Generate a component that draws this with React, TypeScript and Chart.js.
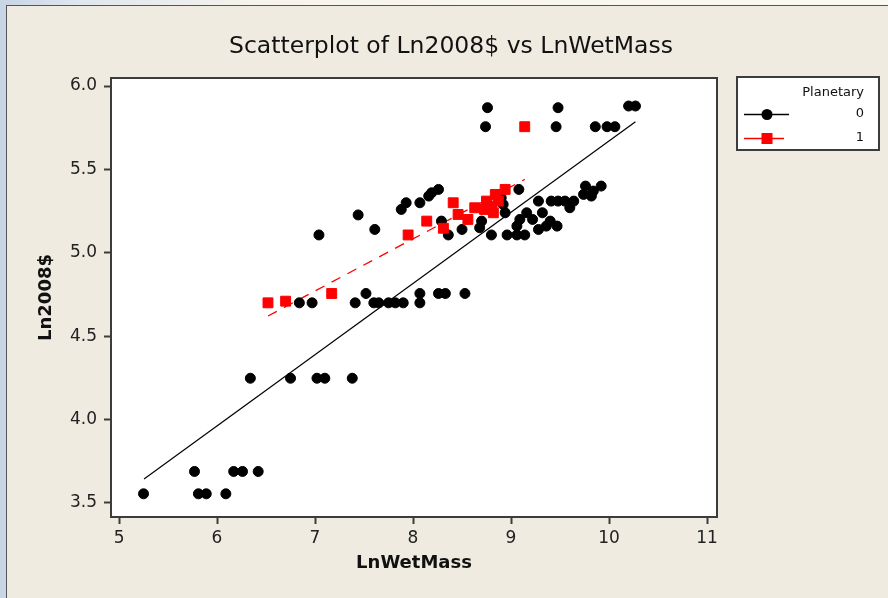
import React, { useEffect, useRef } from "react";
import { Chart, registerables } from "chart.js";

Chart.register(...registerables);

// ---- data ----
const xTickValues = [5, 6, 7, 8, 9, 10, 11];
const yTickValues = [3.5, 4.0, 4.5, 5.0, 5.5, 6.0];

// Planetary = 0 (black circles)
const group0X = [
  5.25, 5.77, 5.81, 5.89, 6.09, 6.17, 6.26, 6.42,
  6.34, 6.75, 7.02, 7.10, 7.38,
  6.84, 6.97, 7.41, 7.52, 7.60, 7.65, 7.75, 7.82, 7.90, 8.07, 8.07, 8.26, 8.33, 8.53,
  7.04, 7.44, 7.61, 7.88, 7.93, 8.07, 8.16, 8.19, 8.26, 8.29, 8.36, 8.50, 8.68, 8.70,
  8.80, 8.90, 8.92, 8.94, 8.96, 9.06, 9.06, 9.08, 9.09, 9.14, 9.16, 9.22, 9.28, 9.28,
  9.32, 9.36, 9.40, 9.41, 9.47, 9.48, 9.55, 9.60, 9.64, 9.74, 9.76, 9.82, 9.84, 9.92,
  8.76, 8.74, 9.48, 9.46, 9.86, 9.98, 10.06, 10.20, 10.27,
];
const group0Y = [
  3.555, 3.689, 3.555, 3.555, 3.555, 3.689, 3.689, 3.689,
  4.248, 4.248, 4.248, 4.248, 4.248,
  4.70, 4.70, 4.70, 4.756, 4.70, 4.70, 4.70, 4.70, 4.70, 4.70, 4.756, 4.756, 4.756, 4.756,
  5.107, 5.227, 5.14, 5.26, 5.30, 5.30, 5.34, 5.36, 5.38, 5.19, 5.107, 5.14, 5.15, 5.19,
  5.107, 5.33, 5.29, 5.24, 5.107, 5.16, 5.107, 5.38, 5.20, 5.107, 5.24, 5.20, 5.31, 5.14,
  5.24, 5.16, 5.19, 5.31, 5.16, 5.31, 5.31, 5.27, 5.31, 5.35, 5.40, 5.34, 5.37, 5.40,
  5.87, 5.756, 5.87, 5.756, 5.756, 5.756, 5.756, 5.88, 5.88,
];

// Planetary = 1 (red squares)
const group1X = [
  6.52, 6.70, 7.17, 7.95, 8.14, 8.31, 8.41, 8.46, 8.56, 8.63, 8.73, 8.75, 8.80, 8.82,
  8.84, 8.87, 8.94, 9.14,
];
const group1Y = [
  4.70, 4.71, 4.756, 5.107, 5.19, 5.147, 5.30, 5.23, 5.20, 5.27, 5.26, 5.31, 5.28, 5.24,
  5.35, 5.31, 5.38, 5.756,
];

// fitted lines (end points)
const fit0X = [5.255, 10.27];
const fit0Y = [3.644, 5.786];
const fit1X = [6.52, 9.14];
const fit1Y = [4.621, 5.44];

const titleText = "Scatterplot of Ln2008$ vs LnWetMass";
const xTitle = "LnWetMass";
const yTitle = "Ln2008$";
const legendTitle = "Planetary";
const groupLabels = ["0", "1"];

const FONT = "'DejaVu Sans', sans-serif";

const pts = (xs: number[], ys: number[]) => xs.map((x, i) => ({ x, y: ys[i] }));

const framePlugin = {
  id: "frame",
  beforeDraw(chart: any) {
    const { ctx, chartArea: a } = chart;
    ctx.save();
    ctx.fillStyle = "#ffffff";
    ctx.fillRect(a.left, a.top, a.right - a.left, a.bottom - a.top);
    ctx.restore();
  },
  afterDraw(chart: any) {
    const { ctx, chartArea: a } = chart;
    ctx.save();
    // plot border
    ctx.strokeStyle = "#3c3c3c";
    ctx.lineWidth = 2;
    ctx.strokeRect(a.left, a.top, a.right - a.left, a.bottom - a.top);

    // title
    ctx.fillStyle = "#111";
    ctx.font = `23.5px ${FONT}`;
    ctx.textAlign = "center";
    ctx.textBaseline = "middle";
    ctx.fillText(titleText, 451, 47);

    // legend
    const lx = a.right + 20;
    const ly = a.top - 1;
    const lw = 142;
    const lh = 73;
    ctx.fillStyle = "#ffffff";
    ctx.fillRect(lx, ly, lw, lh);
    ctx.strokeStyle = "#3c3c3c";
    ctx.lineWidth = 2;
    ctx.strokeRect(lx, ly, lw, lh);

    ctx.fillStyle = "#111";
    ctx.font = `13px ${FONT}`;
    ctx.textAlign = "right";
    ctx.textBaseline = "middle";
    ctx.fillText(legendTitle, lx + 127, ly + 16);
    ctx.fillText(groupLabels[0], lx + 127, ly + 37);
    ctx.fillText(groupLabels[1], lx + 127, ly + 61);

    // row 0
    ctx.strokeStyle = "#000";
    ctx.lineWidth = 1.5;
    ctx.beginPath();
    ctx.moveTo(lx + 7, ly + 37.5);
    ctx.lineTo(lx + 52, ly + 37.5);
    ctx.stroke();
    ctx.fillStyle = "#000";
    ctx.beginPath();
    ctx.arc(lx + 30, ly + 37.5, 5.5, 0, Math.PI * 2);
    ctx.fill();

    // row 1
    ctx.strokeStyle = "#ff0000";
    ctx.beginPath();
    ctx.moveTo(lx + 7, ly + 61.5);
    ctx.lineTo(lx + 47, ly + 61.5);
    ctx.stroke();
    ctx.fillStyle = "#ff0000";
    ctx.fillRect(lx + 24.5, ly + 56, 11, 11);
    ctx.restore();
  },
};

export default function App() {
  const ref = useRef<HTMLCanvasElement | null>(null);

  useEffect(() => {
    document.body.style.margin = "0";
    const canvas = ref.current;
    if (!canvas) return;
    const chart = new Chart(canvas, {
      type: "scatter",
      data: {
        datasets: [
          {
            label: "1",
            data: pts(group1X, group1Y),
            pointStyle: "rect",
            pointRadius: 7,
            borderWidth: 1,
            backgroundColor: "#ff0000",
            borderColor: "#ff0000",
          },
          {
            label: "0",
            data: pts(group0X, group0Y),
            pointStyle: "circle",
            pointRadius: 5,
            borderWidth: 1,
            backgroundColor: "#000000",
            borderColor: "#000000",
          },
          {
            label: "fit1",
            data: pts(fit1X, fit1Y),
            showLine: true,
            pointRadius: 0,
            borderWidth: 1.3,
            borderColor: "#ff0000",
            borderDash: [10, 8],
          },
          {
            label: "fit0",
            data: pts(fit0X, fit0Y),
            showLine: true,
            pointRadius: 0,
            borderWidth: 1.2,
            borderColor: "#000000",
          },
        ],
      },
      options: {
        animation: false,
        responsive: false,
        devicePixelRatio: 1,
        layout: { padding: { left: 0, top: 78, right: 171, bottom: 0 } },
        plugins: {
          legend: { display: false },
          tooltip: { enabled: false },
          title: { display: false },
        },
        scales: {
          x: {
            type: "linear",
            min: 4.918,
            max: 11.102,
            afterFit: (s: any) => {
              s.height = 81;
            },
            afterBuildTicks: (s: any) => {
              s.ticks = xTickValues.map((v) => ({ value: v }));
            },
            grid: {
              drawOnChartArea: false,
              drawTicks: true,
              tickLength: 7,
              tickColor: "#3c3c3c",
              tickWidth: 2,
            },
            border: { display: false },
            ticks: {
              font: { family: FONT, size: 17 },
              color: "#222",
              padding: 4,
              callback: (v: any) => String(v),
            },
            title: {
              display: true,
              text: xTitle,
              font: { family: FONT, size: 18, weight: "bold" },
              color: "#111",
              padding: { top: 0, bottom: 24 },
            },
          },
          y: {
            type: "linear",
            min: 3.416,
            max: 6.048,
            afterFit: (s: any) => {
              s.width = 111;
            },
            afterBuildTicks: (s: any) => {
              s.ticks = yTickValues.map((v) => ({ value: v }));
            },
            grid: {
              drawOnChartArea: false,
              drawTicks: true,
              tickLength: 7,
              tickColor: "#3c3c3c",
              tickWidth: 2,
            },
            border: { display: false },
            ticks: {
              font: { family: FONT, size: 17 },
              color: "#222",
              padding: 7,
              callback: (v: any) => Number(v).toFixed(1),
            },
            title: {
              display: true,
              text: yTitle,
              font: { family: FONT, size: 18, weight: "bold" },
              color: "#111",
              padding: { top: 36, bottom: 0 },
            },
          },
        },
      },
      plugins: [framePlugin],
    } as any);
    return () => chart.destroy();
  }, []);

  return (
    <div
      style={{
        position: "absolute",
        left: 0,
        top: 0,
        width: 888,
        height: 598,
        overflow: "hidden",
        background: "linear-gradient(to right, #c8d5e6 0px, #dfe6ee 80px, #f6f4ec 260px, #fbfaf2 888px)",
      }}
    >
      <div
        style={{
          position: "absolute",
          left: 6,
          top: 5,
          width: 882,
          height: 593,
          background: "#efebe1",
          borderLeft: "1.5px solid #555",
          borderTop: "1px solid #555",
          boxSizing: "border-box",
        }}
      />
      <canvas
        ref={ref}
        width={888}
        height={598}
        style={{ position: "absolute", left: 0, top: 0, width: 888, height: 598 }}
      />
    </div>
  );
}
